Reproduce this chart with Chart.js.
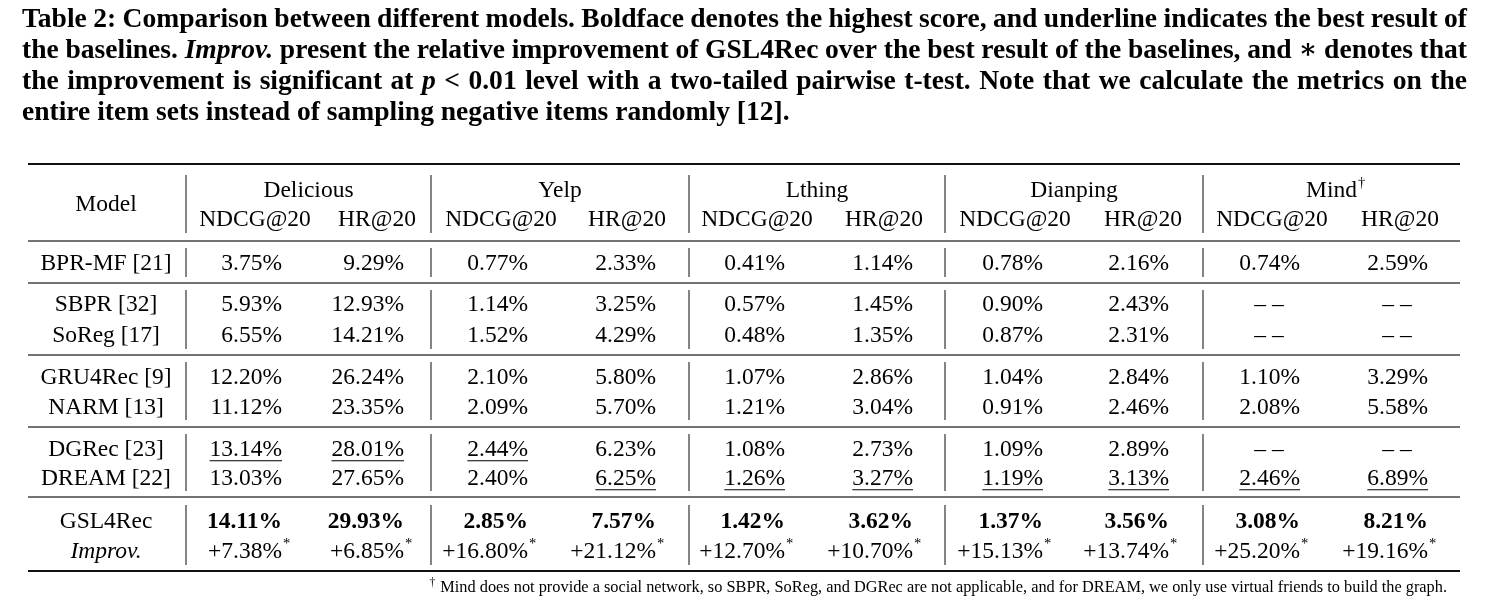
<!DOCTYPE html>
<html>
<head>
<meta charset="utf-8">
<script src="https://cdn.jsdelivr.net/npm/chart.js@4.4.0/dist/chart.umd.min.js"></script>
<style>
  html, body { margin: 0; padding: 0; background: #fff; }
  #wrap { width: 1494px; height: 611px; }
</style>
</head>
<body>
<div id="wrap"><canvas id="tableChart" width="1494" height="611"></canvas></div>
<script>
// ---- data (values in %) ----
var datasetNames = ['Delicious', 'Yelp', 'Lthing', 'Dianping', 'Mind'];
var metricNames = ['NDCG@20', 'HR@20'];
var models = ['BPR-MF [21]', 'SBPR [32]', 'SoReg [17]', 'GRU4Rec [9]', 'NARM [13]', 'DGRec [23]', 'DREAM [22]', 'GSL4Rec'];

var deliciousNDCG = [3.75, 5.93, 6.55, 12.20, 11.12, 13.14, 13.03, 14.11];
var deliciousHR   = [9.29, 12.93, 14.21, 26.24, 23.35, 28.01, 27.65, 29.93];
var yelpNDCG      = [0.77, 1.14, 1.52, 2.10, 2.09, 2.44, 2.40, 2.85];
var yelpHR        = [2.33, 3.25, 4.29, 5.80, 5.70, 6.23, 6.25, 7.57];
var lthingNDCG    = [0.41, 0.57, 0.48, 1.07, 1.21, 1.08, 1.26, 1.42];
var lthingHR      = [1.14, 1.45, 1.35, 2.86, 3.04, 2.73, 3.27, 3.62];
var dianpingNDCG  = [0.78, 0.90, 0.87, 1.04, 0.91, 1.09, 1.19, 1.37];
var dianpingHR    = [2.16, 2.43, 2.31, 2.84, 2.46, 2.89, 3.13, 3.56];
var mindNDCG      = [0.74, null, null, 1.10, 2.08, null, 2.46, 3.08];
var mindHR        = [2.59, null, null, 3.29, 5.58, null, 6.89, 8.21];
var improvement   = [7.38, 6.85, 16.80, 21.12, 12.70, 10.70, 15.13, 13.74, 25.20, 19.16];

var titleLines = [
  'Table 2: Comparison between different models. Boldface denotes the highest score, and underline indicates the best result of',
  'the baselines. _Improv._ present the relative improvement of GSL4Rec over the best result of the baselines, and \u2217 denotes that',
  'the improvement is significant at _p_ < 0.01 level with a two-tailed pairwise t-test. Note that we calculate the metrics on the',
  'entire item sets instead of sampling negative items randomly [12].'
];
var footnote = 'Mind does not provide a social network, so SBPR, SoReg, and DGRec are not applicable, and for DREAM, we only use virtual friends to build the graph.';

var columns = [deliciousNDCG, deliciousHR, yelpNDCG, yelpHR, lthingNDCG, lthingHR,
               dianpingNDCG, dianpingHR, mindNDCG, mindHR];

// ---- layout (page pixels) ----
var FONT = '"Liberation Serif", "DejaVu Serif", serif';
var cellSize = 23.5;
var modelX = 106;
var headX = [255, 377, 501, 627, 757, 884, 1015, 1143, 1272, 1400];
var rightX = [282, 404, 528, 656, 785, 913, 1043, 1169, 1300, 1428];
var sepX = [186, 431, 689, 945, 1203, 1460];
var tableLeft = 28, tableRight = 1460;
var rowY = [262, 303, 334, 376, 406, 448, 477, 520];
var improvY = 550;
var groupY = 189, metricY = 218, modelHeadY = 203;
var rules = [[164, 2.2, '#111'], [241, 1.5, '#444'], [283, 1.5, '#444'], [355, 1.5, '#444'],
             [427, 1.5, '#444'], [497, 1.5, '#444'], [571, 2.2, '#111']];
var sepBands = [[175, 233], [248, 277], [290, 349], [362, 420], [434, 491], [505, 565]];

// best baseline per column (rows 0..6) gets underlined
function bestBaseline(col) {
  var best = -1, idx = -1;
  for (var r = 0; r < 7; r++) {
    if (col[r] !== null && col[r] > best) { best = col[r]; idx = r; }
  }
  return idx;
}

// every cell is a point of the scatter dataset, placed by the scales
var cells = [];
function addCell(x, y, text, opt) {
  var c = { x: x, y: y, text: text, align: 'center' };
  for (var k in (opt || {})) c[k] = opt[k];
  cells.push(c);
}

addCell(modelX, modelHeadY, 'Model');
datasetNames.forEach(function (name, g) {
  addCell((sepX[g] + sepX[g + 1]) / 2, groupY, name, name === 'Mind' ? { sup: '\u2020' } : {});
  metricNames.forEach(function (m, k) {
    addCell(headX[g * 2 + k], metricY, m);
  });
});
models.forEach(function (name, r) {
  addCell(modelX, rowY[r], name);
});
columns.forEach(function (col, c) {
  var best = bestBaseline(col);
  col.forEach(function (v, r) {
    if (v === null) {
      addCell(rightX[c] - 31, rowY[r], '\u2013 \u2013');
    } else {
      addCell(rightX[c], rowY[r], v.toFixed(2) + '%', {
        align: 'right', bold: r === models.length - 1, underline: r === best
      });
    }
  });
});
addCell(modelX, improvY, 'Improv.', { italic: true });
improvement.forEach(function (v, c) {
  addCell(rightX[c], improvY, '+' + v.toFixed(2) + '%', { align: 'right', sup: '*' });
});

function fontStr(size, bold, italic) {
  return (italic ? 'italic ' : '') + (bold ? 'bold ' : '') + size + 'px ' + FONT;
}

function drawTitle(ctx) {
  var left = 22, right = 1467, baseY = [27, 58, 89, 120];
  var parse = function (line) {
    return line.split(' ').map(function (w) {
      return { t: w.replace(/_/g, ''), italic: w.charAt(0) === '_' };
    });
  };
  var measure = function (words, size) {
    var total = 0;
    words.forEach(function (w) {
      ctx.font = fontStr(size, true, w.italic);
      w.w = ctx.measureText(w.t).width;
      total += w.w;
    });
    return total;
  };
  // size so the short last line has the reference width
  var last = parse(titleLines[3]);
  ctx.font = fontStr(100, true, false);
  var natural = measure(last, 100) + (last.length - 1) * ctx.measureText(' ').width;
  var size = Math.min(30, 100 * 768 / natural);
  ctx.fillStyle = '#000';
  ctx.textAlign = 'left';
  ctx.textBaseline = 'alphabetic';
  titleLines.forEach(function (line, i) {
    var words = parse(line);
    var total = measure(words, size);
    ctx.font = fontStr(size, true, false);
    var gap = i < 3 ? (right - left - total) / (words.length - 1) : ctx.measureText(' ').width;
    var x = left;
    words.forEach(function (w) {
      ctx.font = fontStr(size, true, w.italic);
      ctx.fillText(w.t, x, baseY[i]);
      x += w.w + gap;
    });
  });
}

function drawFootnote(ctx) {
  var size = 15.5;
  ctx.font = fontStr(size, false, false);
  var w = ctx.measureText(footnote).width;
  size = size * 1007 / w;
  ctx.font = fontStr(size, false, false);
  w = ctx.measureText(footnote).width;
  var x0 = 1447 - w, base = 592;
  ctx.fillStyle = '#000';
  ctx.textAlign = 'left';
  ctx.fillText(footnote, x0, base);
  ctx.font = fontStr(size * 0.7, false, false);
  var dw = ctx.measureText('\u2020').width;
  ctx.fillText('\u2020', x0 - dw - 5, base - 6);
}

var tablePlugin = {
  id: 'tablePlugin',
  beforeDatasetsDraw: function (chart) {
    var ctx = chart.ctx, xs = chart.scales.x, ys = chart.scales.y;
    ctx.save();
    rules.forEach(function (r) {
      var y = ys.getPixelForValue(r[0]);
      ctx.strokeStyle = r[2];
      ctx.lineWidth = r[1];
      ctx.beginPath();
      ctx.moveTo(xs.getPixelForValue(tableLeft), y);
      ctx.lineTo(xs.getPixelForValue(tableRight), y);
      ctx.stroke();
    });
    ctx.strokeStyle = '#333';
    ctx.lineWidth = 1.2;
    sepBands.forEach(function (b) {
      sepX.slice(0, 5).forEach(function (sx) {
        var x = xs.getPixelForValue(sx);
        ctx.beginPath();
        ctx.moveTo(x, ys.getPixelForValue(b[0]));
        ctx.lineTo(x, ys.getPixelForValue(b[1]));
        ctx.stroke();
      });
    });
    ctx.restore();
  },
  afterDatasetsDraw: function (chart) {
    var ctx = chart.ctx;
    var meta = chart.getDatasetMeta(0);
    var raw = chart.data.datasets[0].data;
    ctx.save();
    ctx.fillStyle = '#000';
    ctx.textAlign = 'left';
    ctx.textBaseline = 'alphabetic';
    meta.data.forEach(function (pt, i) {
      var c = raw[i];
      ctx.font = fontStr(cellSize, c.bold, c.italic);
      var w = ctx.measureText(c.text).width;
      var x0 = c.align === 'right' ? pt.x - w : pt.x - w / 2;
      var base = pt.y + cellSize * 0.33;
      ctx.fillText(c.text, x0, base);
      if (c.underline) {
        ctx.strokeStyle = '#000';
        ctx.lineWidth = 1.1;
        ctx.beginPath();
        ctx.moveTo(x0, base + 5);
        ctx.lineTo(x0 + w, base + 5);
        ctx.stroke();
      }
      if (c.sup) {
        ctx.font = fontStr(cellSize * 0.62, false, false);
        ctx.fillText(c.sup, x0 + w + 1, base - cellSize * 0.42);
      }
    });
    ctx.restore();
  },
  afterDraw: function (chart) {
    var ctx = chart.ctx;
    ctx.save();
    drawTitle(ctx);
    drawFootnote(ctx);
    ctx.restore();
  }
};

var tableChart = new Chart(document.getElementById('tableChart'), {
  type: 'scatter',
  data: {
    datasets: [{
      label: 'cells',
      data: cells,
      pointRadius: 0,
      pointHoverRadius: 0
    }]
  },
  options: {
    responsive: false,
    animation: false,
    events: [],
    layout: { padding: 0 },
    plugins: {
      legend: { display: false },
      tooltip: { enabled: false }
    },
    scales: {
      x: { type: 'linear', min: 0, max: 1494, display: false },
      y: { type: 'linear', min: 0, max: 611, reverse: true, display: false }
    }
  },
  plugins: [tablePlugin]
});
</script>
</body>
</html>
